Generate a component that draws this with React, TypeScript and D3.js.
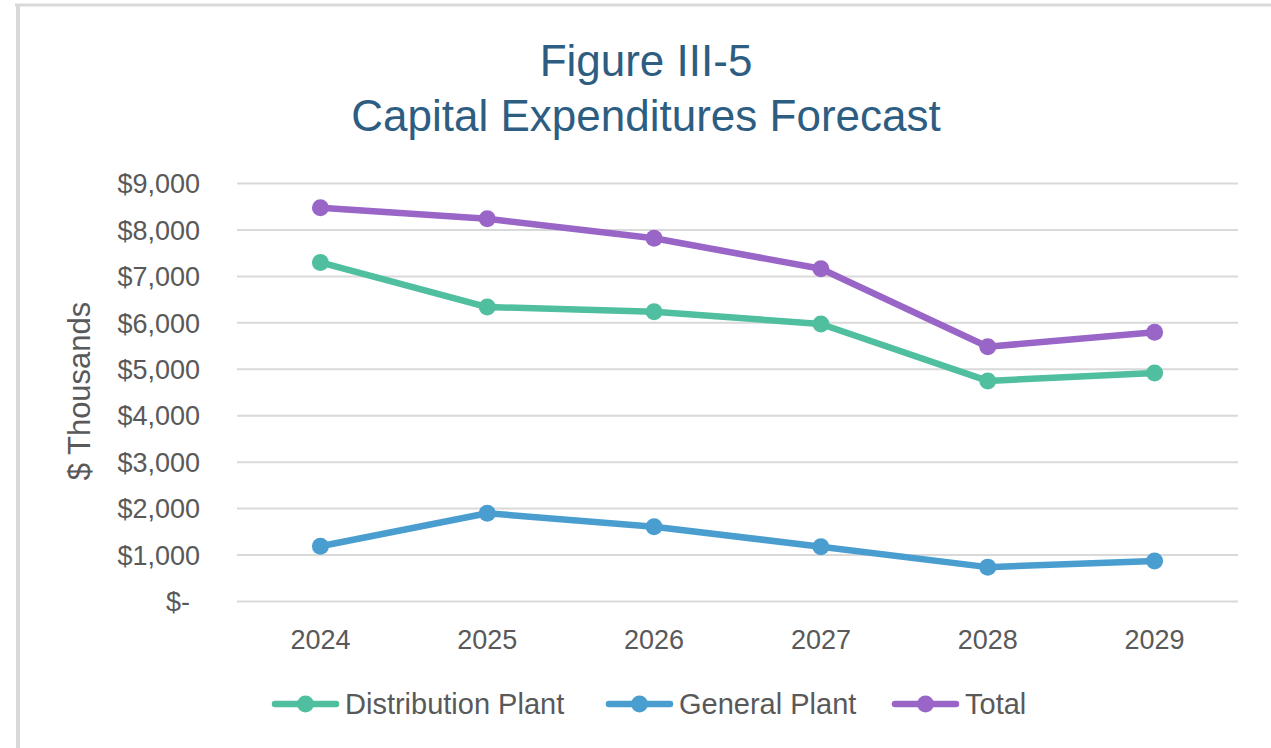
import React from "react";
import * as d3 from "d3";

const categories = ["2024", "2025", "2026", "2027", "2028", "2029"];
const distributionPlant = [7300, 6340, 6240, 5975, 4750, 4920];
const generalPlant = [1190, 1900, 1610, 1180, 740, 870];
const totalValues = [8480, 8240, 7820, 7165, 5485, 5797];
const yTicks = [0, 1000, 2000, 3000, 4000, 5000, 6000, 7000, 8000, 9000];
const seriesNames = ["Distribution Plant", "General Plant", "Total"];
const seriesColors = ["#4fbf9f", "#4a9ecf", "#9966c8"];
const titleLines = ["Figure III-5", "Capital Expenditures Forecast"];
const yAxisTitle = "$ Thousands";

const W = 1271;
const H = 748;
const FONT = "'Liberation Sans', Arial, sans-serif";

export default function App() {
  const x = d3.scalePoint<string>().domain(categories).range([237, 1238]).padding(0.5);
  const y = d3.scaleLinear().domain([0, 9000]).range([601.5, 183.5]);
  const line = d3
    .line<number>()
    .x((_, i) => x(categories[i]) as number)
    .y((d) => y(d));
  const allSeries = [distributionPlant, generalPlant, totalValues];
  const fmt = (v: number) => (v === 0 ? "$-" : "$" + d3.format(",")(v));
  const legendX = [272, 606, 892];

  return (
    <svg
      width={W}
      height={H}
      style={{ position: "absolute", left: 0, top: 0, background: "#fff" }}
    >
      <rect x={0} y={0} width={W} height={H} fill="#fff" />
      {/* frame */}
      <line x1={15} x2={W} y1={5} y2={5} stroke="#d9d9d9" strokeWidth={3} />
      <line x1={18} x2={18} y1={4} y2={H} stroke="#d9d9d9" strokeWidth={4} />

      {/* title */}
      {titleLines.map((t, i) => (
        <text
          key={t}
          x={646}
          y={76 + i * 55}
          textAnchor="middle"
          fontFamily={FONT}
          fontSize={44}
          fill="#2e5d82"
        >
          {t}
        </text>
      ))}

      {/* gridlines + y ticks */}
      {yTicks.map((t) => (
        <g key={t}>
          <line x1={237} x2={1238} y1={y(t)} y2={y(t)} stroke="#d9d9d9" strokeWidth={2} />
          <text
            x={t === 0 ? 190 : 200}
            y={y(t)}
            dy="0.36em"
            textAnchor="end"
            fontFamily={FONT}
            fontSize={27}
            fill="#595959"
          >
            {fmt(t)}
          </text>
        </g>
      ))}

      {/* y axis title */}
      <text
        transform={`translate(90,391) rotate(-90)`}
        textAnchor="middle"
        fontFamily={FONT}
        fontSize={31}
        fill="#595959"
      >
        {yAxisTitle}
      </text>

      {/* x labels */}
      {categories.map((c) => (
        <text
          key={c}
          x={x(c)}
          y={649}
          textAnchor="middle"
          fontFamily={FONT}
          fontSize={27}
          fill="#595959"
        >
          {c}
        </text>
      ))}

      {/* series */}
      {allSeries.map((s, si) => (
        <g key={seriesNames[si]}>
          <path
            d={line(s) || ""}
            fill="none"
            stroke={seriesColors[si]}
            strokeWidth={6.5}
            strokeLinejoin="round"
            strokeLinecap="round"
          />
          {s.map((v, i) => (
            <circle
              key={i}
              cx={x(categories[i])}
              cy={y(v)}
              r={8.5}
              fill={seriesColors[si]}
            />
          ))}
        </g>
      ))}

      {/* legend */}
      {seriesNames.map((n, i) => (
        <g key={n} transform={`translate(${legendX[i]},704)`}>
          <line x1={3} x2={64} y1={0} y2={0} stroke={seriesColors[i]} strokeWidth={6.5} strokeLinecap="round" />
          <circle cx={33.5} cy={0} r={8.5} fill={seriesColors[i]} />
          <text x={73} y={0} dy="0.36em" fontFamily={FONT} fontSize={29} fill="#595959">
            {n}
          </text>
        </g>
      ))}
    </svg>
  );
}
